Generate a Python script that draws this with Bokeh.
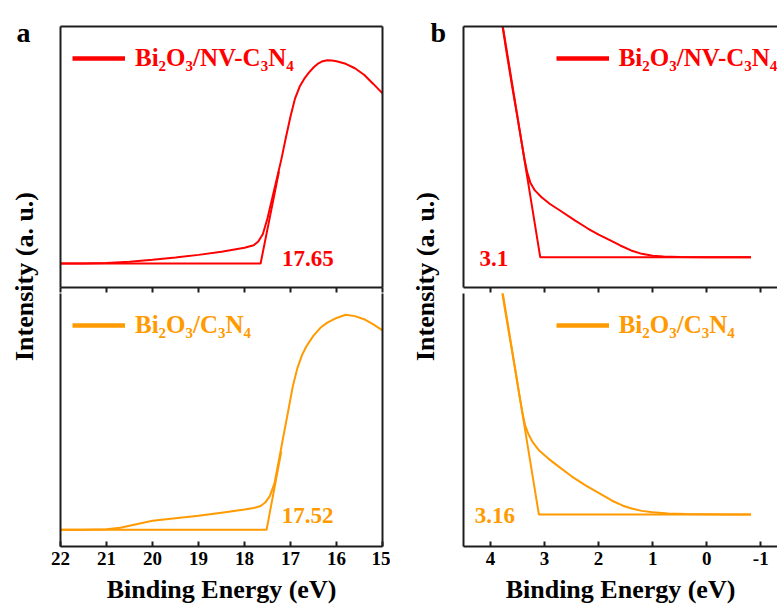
from math import pi
from bokeh.plotting import figure
from bokeh.models import Range1d, LinearAxis, FixedTicker, Label, Legend, LegendItem
from bokeh.layouts import row, column
from bokeh.embed import file_html
from bokeh.resources import INLINE

RED = "#FF0000"
ORANGE = "#FF9A00"
AX = "#1e1e1e"
FONT = "Liberation Serif"
NAN = float("nan")

# ---------------- data ----------------
series_names = ["Bi₂O₃/NV-C₃N₄", "Bi₂O₃/C₃N₄"]

# panel a (secondary electron cutoff)
a_nv_x = [22.0, 21.5, 21.0, 20.5, 20.0, 19.5, 19.0, 18.5, 18.0, 17.8, 17.7, 17.6, 17.5,
          17.4, 17.3, 17.2, 17.1, 17.0, 16.9, 16.8, 16.7, 16.6, 16.5, 16.4, 16.3, 16.2,
          16.1, 16.0, 15.8, 15.6, 15.4, 15.2, 15.0]
a_nv_y = [9.2, 9.2, 9.4, 9.9, 10.6, 11.5, 12.5, 13.7, 15.2, 16.2, 17.6, 20.5, 26.5,
          34.0, 41.5, 49.0, 57.5, 65.5, 72.5, 77.0, 80.0, 82.3, 84.3, 85.8, 86.7, 87.1,
          87.0, 86.7, 85.7, 84.0, 81.5, 78.0, 74.4]
a_nv_fit_x = [22.0, 17.65, 17.25]
a_nv_fit_y = [9.2, 9.2, 44.5]

a_cn_x = [22.0, 21.5, 21.0, 20.7, 20.4, 20.0, 19.5, 19.0, 18.5, 18.0, 17.8, 17.65, 17.55,
          17.45, 17.35, 17.25, 17.15, 17.05, 16.95, 16.85, 16.75, 16.65, 16.5, 16.35,
          16.2, 16.0, 15.8, 15.6, 15.4, 15.2, 15.0]
a_cn_y = [6.8, 6.8, 7.0, 7.6, 8.8, 10.3, 11.3, 12.2, 13.4, 14.6, 15.2, 16.0, 17.3,
          19.8, 24.6, 33.8, 43.2, 52.5, 62.0, 69.0, 74.0, 77.5, 81.5, 84.5,
          86.5, 88.3, 89.5, 89.0, 87.8, 85.8, 83.5]
a_cn_fit_x = [22.0, 17.52, 17.2]
a_cn_fit_y = [6.8, 6.8, 37.0]

# panel b (valence band edge)
b_nv_x = [3.80, 3.71, 3.60, 3.50, 3.42, 3.37, 3.32, 3.26, 3.18, 3.05, 2.90, 2.70, 2.44,
          2.20, 2.0, 1.82, 1.6, 1.4, 1.2, 1.0, 0.8, 0.5, 0.0, -0.5, -0.82]
b_nv_y = [103.0, 91.0, 77.0, 65.0, 55.0, 49.0, 44.0, 40.0, 37.2, 34.5, 32.0, 29.3, 25.7,
          22.6, 20.3, 18.4, 16.1, 14.2, 12.9, 12.2, 11.9, 11.7, 11.6, 11.6, 11.6]
b_nv_fit_x = [-0.82, 3.08, 3.78]
b_nv_fit_y = [11.6, 11.6, 101.0]

b_cn_x = [3.80, 3.72, 3.63, 3.54, 3.47, 3.41, 3.36, 3.30, 3.22, 3.10, 2.93, 2.75, 2.5,
          2.25, 2.0, 1.75, 1.55, 1.39, 1.2, 1.0, 0.71, 0.4, 0.0, -0.4, -0.82]
b_cn_y = [100.0, 90.0, 79.0, 68.0, 59.0, 52.0, 47.0, 43.7, 40.5, 37.3, 34.2, 31.3, 27.4,
          24.0, 21.0, 18.0, 16.1, 15.0, 14.1, 13.6, 13.1, 12.9, 12.8, 12.7, 12.7]
b_cn_fit_x = [-0.82, 3.105, 3.79]
b_cn_fit_y = [12.7, 12.7, 100.0]

onset_a = ["17.65", "17.52"]
onset_b = ["3.1", "3.16"]

ticks_a = [22, 21, 20, 19, 18, 17, 16, 15]
ticks_b = [4, 3, 2, 1, 0, -1]
tick_labels_b = ["4", "3", "2", "1", "0", "-1"]

x_title = "Binding Energy (eV)"
y_title = "Intensity (a. u.)"


# ---------------- helpers ----------------
def make_fig(width, height, xr, yr, mbl, mbr, mbt, mbb):
    p = figure(width=width, height=height, x_range=xr, y_range=yr,
               x_axis_type=None, y_axis_type=None,
               output_backend="svg", toolbar_location=None,
               min_border_left=mbl, min_border_right=mbr,
               min_border_top=mbt, min_border_bottom=mbb)
    p.outline_line_color = None
    p.background_fill_color = "white"
    p.border_fill_color = "white"
    return p


def border_axis(p, side):
    ax = LinearAxis(ticker=FixedTicker(ticks=[]), axis_line_color=AX, axis_line_width=2,
                    major_tick_in=0, major_tick_out=0, minor_tick_in=0, minor_tick_out=0,
                    major_label_standoff=0)
    p.add_layout(ax, side)


def tick_axis(p, ticks, side, tin, tout, labels, names=None):
    ax = LinearAxis(ticker=FixedTicker(ticks=ticks), axis_line_color=AX, axis_line_width=2,
                    major_tick_in=tin, major_tick_out=tout, minor_tick_in=0, minor_tick_out=0,
                    major_tick_line_color=AX, major_tick_line_width=2)
    if labels:
        if names is not None:
            ax.major_label_overrides = {t: n for t, n in zip(ticks, names)}
        ax.major_label_text_font = FONT
        ax.major_label_text_font_style = "bold"
        ax.major_label_text_font_size = "19px"
        ax.major_label_text_color = "black"
        ax.major_label_standoff = 5
        ax.axis_label = x_title
        ax.axis_label_text_font = FONT
        ax.axis_label_text_font_style = "bold"
        ax.axis_label_text_font_size = "26px"
        ax.axis_label_text_color = "black"
        ax.axis_label_standoff = 7
    else:
        ax.major_label_overrides = {t: "" for t in ticks}
        ax.major_label_text_font_size = "1px"
        ax.major_label_standoff = 0
    p.add_layout(ax, side)


def add_legend(p, name, color, vx, vy):
    r = p.line(x=[NAN], y=[NAN], line_color=color, line_width=4.5)
    leg = Legend(items=[LegendItem(label=name, renderers=[r])], location=(vx, vy),
                 margin=0, padding=0, glyph_width=53, glyph_height=40, label_standoff=10,
                 label_text_font=FONT, label_text_font_size="25px",
                 label_text_font_style="bold", label_text_color=color,
                 border_line_color=None, background_fill_alpha=0)
    p.add_layout(leg)


def onset_label(p, x, y, text, color):
    p.add_layout(Label(x=x, y=y, text=text, text_font=FONT, text_font_size="23px",
                       text_font_style="bold", text_color=color,
                       text_align="center", text_baseline="alphabetic"))


def title_fig(width, letter, letter_x, base_x):
    p = make_fig(width, 610, Range1d(0, width), Range1d(0, 610), 0, 0, 0, 0)
    p.add_layout(Label(x=letter_x, y=578, text=letter, text_font=FONT, text_font_size="28px",
                       text_font_style="bold", text_color="black",
                       text_align="left", text_baseline="alphabetic"))
    p.add_layout(Label(x=base_x, y=334, text=y_title, angle=pi / 2, text_font=FONT,
                       text_font_size="26px", text_font_style="bold", text_color="black",
                       text_align="center", text_baseline="alphabetic"))
    return p


LW = 2

# ---------------- panel a ----------------
ta = title_fig(45, "a", 16, 24)

top_a = make_fig(345, 293, Range1d(22, 15), Range1d(0, 100), 15, 8, 26, 6)
border_axis(top_a, "left")
border_axis(top_a, "right")
border_axis(top_a, "above")
tick_axis(top_a, ticks_a, "below", 0, 5, False)
top_a.line(a_nv_x, a_nv_y, line_color=RED, line_width=LW)
top_a.line(a_nv_fit_x, a_nv_fit_y, line_color=RED, line_width=LW)
add_legend(top_a, series_names[0], RED, 12, 209)
onset_label(top_a, 16.62, 11.1, onset_a[0], RED)

bot_a = make_fig(345, 317, Range1d(22, 15), Range1d(0.4, 97.7), 15, 8, 0, 64)
border_axis(bot_a, "left")
border_axis(bot_a, "right")
tick_axis(bot_a, ticks_a, "below", 5, 0, True)
bot_a.line(a_cn_x, a_cn_y, line_color=ORANGE, line_width=LW)
bot_a.line(a_cn_fit_x, a_cn_fit_y, line_color=ORANGE, line_width=LW)
add_legend(bot_a, series_names[1], ORANGE, 12, 201)
onset_label(bot_a, 16.63, 12.3, onset_a[1], ORANGE)

# ---------------- panel b ----------------
tb = title_fig(60, "b", 40, 35)

top_b = make_fig(327, 293, Range1d(4.5, -1.31), Range1d(0, 100), 13, 0, 26, 6)
border_axis(top_b, "left")
border_axis(top_b, "above")
tick_axis(top_b, ticks_b, "below", 0, 5, False)
top_b.line(b_nv_x, b_nv_y, line_color=RED, line_width=LW)
top_b.line(b_nv_fit_x, b_nv_fit_y, line_color=RED, line_width=LW)
add_legend(top_b, series_names[0], RED, 92.7, 209)
onset_label(top_b, 3.94, 11.1, onset_b[0], RED)

bot_b = make_fig(327, 317, Range1d(4.5, -1.31), Range1d(0.4, 97.7), 13, 0, 0, 64)
border_axis(bot_b, "left")
tick_axis(bot_b, ticks_b, "below", 5, 0, True, tick_labels_b)
bot_b.line(b_cn_x, b_cn_y, line_color=ORANGE, line_width=LW)
bot_b.line(b_cn_fit_x, b_cn_fit_y, line_color=ORANGE, line_width=LW)
add_legend(bot_b, series_names[1], ORANGE, 92.7, 201)
onset_label(bot_b, 3.92, 12.3, onset_b[1], ORANGE)

layout = row(ta, column(top_a, bot_a), tb, column(top_b, bot_b))

open("out.html", "w").write(file_html(layout, INLINE))
